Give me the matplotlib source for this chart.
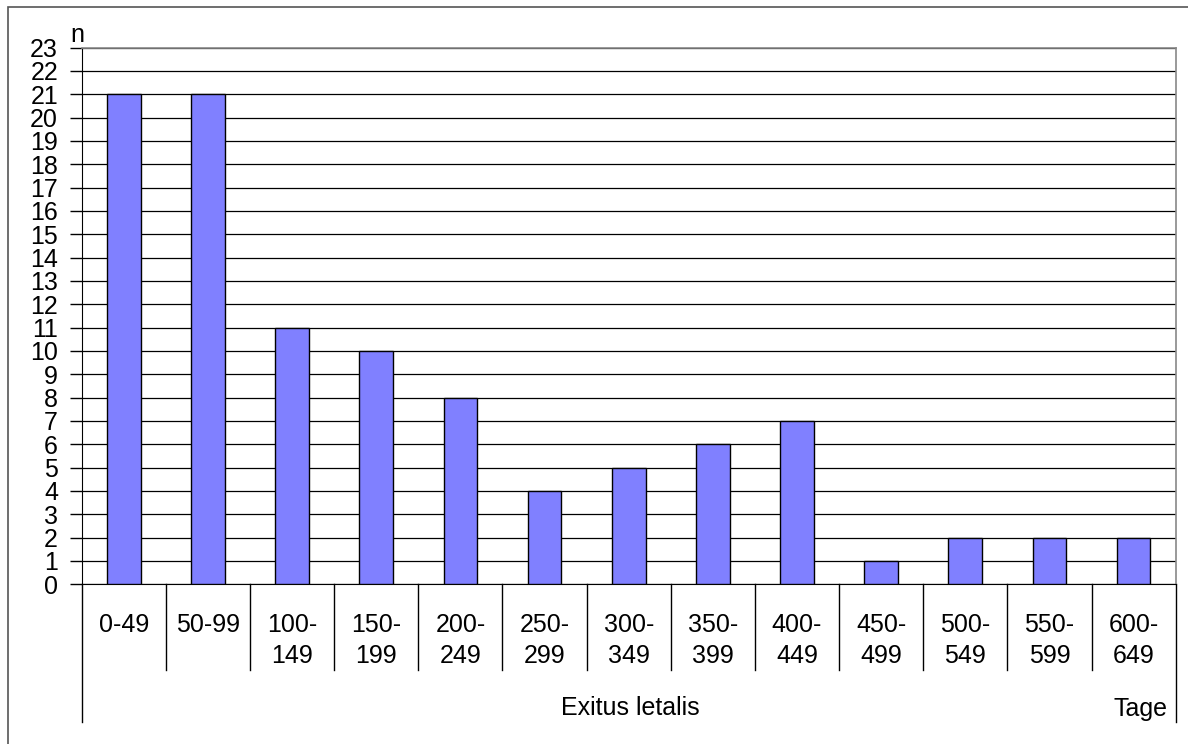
import matplotlib
matplotlib.use("Agg")
import matplotlib.pyplot as plt
from matplotlib.patches import Rectangle
from matplotlib.lines import Line2D

plt.rcParams['font.family'] = ['Liberation Sans', 'DejaVu Sans']

categories = ["0-49", "50-99", "100-\n149", "150-\n199", "200-\n249", "250-\n299",
              "300-\n349", "350-\n399", "400-\n449", "450-\n499", "500-\n549",
              "550-\n599", "600-\n649"]
counts = [21, 21, 11, 10, 8, 4, 5, 6, 7, 1, 2, 2, 2]
y_ticks = list(range(0, 24))
x_title = "Exitus letalis"
x_unit = "Tage"
y_unit = "n"

W, H = 1188, 744
FS = 18
fig = plt.figure(figsize=(W / 100, H / 100), dpi=100)

# outer chart frame (runs off the right and bottom edges)
fig.patches.append(Rectangle((8 / W, 1 - 1000 / H), 2000 / W, (1000 - 7) / H,
                             transform=fig.transFigure, fill=False,
                             edgecolor="#555555", lw=1.2))

x0, x1 = 81.7, 1175.7
y_top, y_base = 47.5, 584.3
ax = fig.add_axes([x0 / W, 1 - y_base / H, (x1 - x0) / W, (y_base - y_top) / H])

n = len(categories)
xs = list(range(n))
ax.bar(xs, counts, width=0.4, color="#8080FF", edgecolor="black", linewidth=1.0, zorder=3)
ax.set_xlim(-0.5, n - 0.5)
ax.set_ylim(0, 23)

ax.set_yticks(y_ticks)
ax.set_yticklabels([str(t) for t in y_ticks], fontsize=FS)
ax.tick_params(axis="y", direction="out", length=9, width=1.0, pad=8)
ax.set_xticks([])
ax.yaxis.grid(True, color="black", lw=0.9, zorder=1)
ax.set_axisbelow(True)

for side in ("top", "right"):
    ax.spines[side].set_color("#888888")
    ax.spines[side].set_linewidth(1.2)
ax.spines["left"].set_color("black")
ax.spines["bottom"].set_color("black")

# category table below the axis
blend = matplotlib.transforms.blended_transform_factory(ax.transData, fig.transFigure)
for i, lab in enumerate(categories):
    for k, line in enumerate(lab.split("\n")):
        fig.text(0, 0, line, ha="center", va="baseline", fontsize=FS,
                 transform=blend).set_position((i, 1 - (632 + 31 * k) / H))

px = lambda v: (y_base - v) / (y_base - y_top) * 23  # pixel y -> data y
for b in range(1, n):
    ax.add_line(Line2D([b - 0.5, b - 0.5], [0, px(670)], color="black", lw=1.0,
                       clip_on=False))
for b in (-0.5, n - 0.5):
    ax.add_line(Line2D([b, b], [0, px(722)], color="black", lw=1.0, clip_on=False))

fig.text(630 / W, 1 - 715 / H, x_title, ha="center", va="baseline", fontsize=FS)
fig.text(1168 / W, 1 - 716 / H, x_unit, ha="right", va="baseline", fontsize=FS)
fig.text(77 / W, 1 - 42 / H, y_unit, ha="center", va="baseline", fontsize=FS)

fig.savefig("out.png", dpi=100)
